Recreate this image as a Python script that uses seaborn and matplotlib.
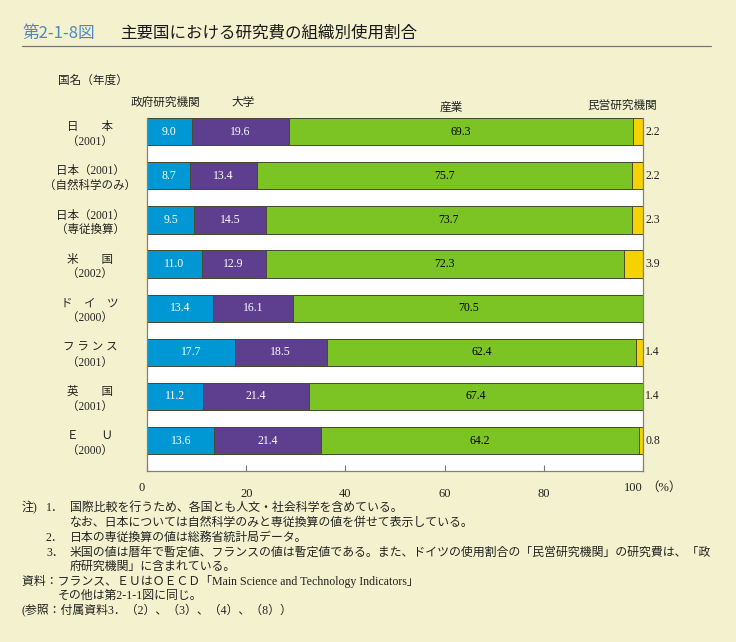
import matplotlib
matplotlib.use("Agg")
import matplotlib.pyplot as plt
import seaborn as sns
import numpy as np
import pandas as pd

# ---- data ----
countries = ["日　　本\n（2001）", "日本（2001）\n（自然科学のみ）", "日本（2001）\n（専従換算）",
             "米　　国\n（2002）", "ド　イ　ツ\n（2000）", "フ ラ ン ス\n（2001）",
             "英　　国\n（2001）", "Ｅ　　Ｕ\n（2000）"]
gov = [9.0, 8.7, 9.5, 11.0, 13.4, 17.7, 11.2, 13.6]
univ = [19.6, 13.4, 14.5, 12.9, 16.1, 18.5, 21.4, 21.4]
industry = [69.3, 75.7, 73.7, 72.3, 70.5, 62.4, 67.4, 64.2]
private = [2.2, 2.2, 2.3, 3.9, np.nan, 1.4, 1.4, 0.8]
series_names = ["政府研究機関", "大学", "産業", "民営研究機関"]
xticks = [0, 20, 40, 60, 80, 100]

colors = ["#0098D4", "#5E3E8E", "#7CC424", "#F5D200"]
text_colors = ["white", "white", "black"]

BG = "#F4F2CE"
W, H = 736, 642
fig = plt.figure(figsize=(W / 100, H / 100), dpi=100, facecolor=BG)
sns.set_style("white")
JP = ["Liberation Serif", "Noto Sans CJK JP", "DejaVu Sans"]
plt.rcParams["font.family"] = JP
TXT = "#222222"

def px(x, y):
    return x / W, 1 - y / H

ax = fig.add_axes([147 / W, (H - 471) / H, 496 / W, 353 / H])
ax.set_facecolor("white")

df = pd.DataFrame({"country": countries, "gov": gov, "univ": univ,
                   "industry": industry, "private": private})
df["private0"] = df["private"].fillna(0)
cum = [df["gov"], df["gov"] + df["univ"], df["gov"] + df["univ"] + df["industry"],
       df["gov"] + df["univ"] + df["industry"] + df["private0"]]

edge = "#4A4A30"
for k in [3, 2, 1, 0]:
    sns.barplot(x=cum[k].values, y=df["country"], orient="h", color=colors[k],
                width=0.62, edgecolor=edge, linewidth=0.7, saturation=1, ax=ax)

ax.set_xlim(0, 100)
ax.set_ylim(7.69, -0.31)
ax.set_xlabel("")
ax.set_ylabel("")

# value labels
vals = [gov, univ, industry]
for k in range(3):
    starts = [0] * 8 if k == 0 else list(cum[k - 1].values)
    for i in range(8):
        ax.text(starts[i] + vals[k][i] / 2, i, f"{vals[k][i]:.1f}", ha="center",
                va="center", fontsize=8.5, color=text_colors[k], family=JP)
for i in range(8):
    if not np.isnan(private[i]):
        ax.annotate(f"{private[i]:.1f}", xy=(100, i), xytext=(1.5, 0),
                    textcoords="offset points", ha="left", va="center",
                    fontsize=8.5, color=TXT, family=JP)

# ticks
ax.set_xticks(xticks)
ax.set_xticklabels(["", "20", "40", "60", "80", ""])
ax.tick_params(axis="x", bottom=True, direction="in", length=4, width=0.8,
               color="#777777", pad=12, labelsize=9, labelcolor=TXT)
ax.tick_params(axis="y", length=0, pad=41, labelsize=8.3, labelcolor=TXT)
for lab in ax.get_yticklabels():
    lab.set_horizontalalignment("center")
    lab.set_multialignment("center")
    lab.set_linespacing(1.3)
    lab.set_family(JP)
for lab in ax.get_xticklabels():
    lab.set_family(JP)
for s in ax.spines.values():
    s.set_color("#808080")
    s.set_linewidth(0.9)
ax.spines["top"].set_visible(False)

fig.text(*px(142, 488), "0", ha="center", va="center", fontsize=9, color=TXT, family=JP)
fig.text(*px(633, 488), "100", ha="center", va="center", fontsize=9, color=TXT, family=JP)
fig.text(*px(664, 488), "（%）", ha="center", va="center", fontsize=9, color=TXT, family=JP)

# headers
hdr = [(165, 103), (243, 103), (451, 108), (622, 106)]
for name, (x, y) in zip(series_names, hdr):
    fig.text(*px(x, y), name, ha="center", va="center", fontsize=8.4, color=TXT, family=JP)
fig.text(*px(58, 81), "国名（年度）", ha="left", va="center", fontsize=8.4, color=TXT, family=JP)

# title
fig.text(*px(22, 33), "第2-1-8図", ha="left", va="center", fontsize=12,
         color="#4F86C6", family=["Noto Sans CJK JP"])
fig.text(*px(120, 33), "主要国における研究費の組織別使用割合", ha="left", va="center",
         fontsize=11.9, color="#1a1a1a", family=["Noto Sans CJK JP"])
fig.add_artist(plt.Line2D([22 / W, 711 / W], [1 - 45.5 / H, 1 - 45.5 / H],
                          color="#777777", lw=0.9))

# footnotes
fs = 8.6
notes = [
    (22, 508, "注)"), (46, 508, "1．"), (70, 508, "国際比較を行うため、各国とも人文・社会科学を含めている。"),
    (70, 523, "なお、日本については自然科学のみと専従換算の値を併せて表示している。"),
    (46, 538, "2．"), (70, 538, "日本の専従換算の値は総務省統計局データ。"),
    (46, 553, "3．"), (70, 553, "米国の値は暦年で暫定値、フランスの値は暫定値である。また、ドイツの使用割合の「民営研究機関」の研究費は、「政"),
    (70, 567, "府研究機関」に含まれている。"),
    (22, 581, "資料：フランス、ＥＵはＯＥＣＤ「Main Science and Technology Indicators」"),
    (58, 596, "その他は第2-1-1図に同じ。"),
    (22, 610, "(参照：付属資料3．（2）、（3）、（4）、（8））"),
]
for x, y, t in notes:
    fig.text(*px(x, y), t, ha="left", va="center", fontsize=fs, color=TXT, family=JP)

fig.savefig("out.png", dpi=100, facecolor=BG)
